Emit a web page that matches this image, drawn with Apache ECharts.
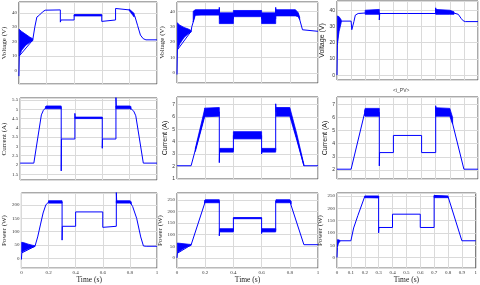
<!DOCTYPE html>
<html><head><meta charset="utf-8">
<script src="https://cdn.jsdelivr.net/npm/echarts@6/dist/echarts.min.js"></script>
<style>html,body{margin:0;padding:0;background:#fff}#c{width:480px;height:285px}</style>
</head><body><div id="c"></div>
<script>
// ---- data (time in s) ----
const xTicks13 = [0, 0.2, 0.4, 0.6, 0.8, 1];
// PV1 voltage
const v1Line = [[0,-4],[0.003,10],[0.1,21],[0.115,30],[0.13,37],[0.15,38.5],[0.17,40.5],[0.19,41.8],[0.2,42],[0.3,42],[0.3,33.5],[0.305,35],[0.4,35],[0.4,38.3],[0.6,38.3],[0.6,34],[0.605,35],[0.7,35],[0.7,43],[0.705,42],[0.8,42],[0.82,40],[0.84,37.5],[0.86,31],[0.88,24.5],[0.9,22],[0.92,21.2],[1,21.2]];
const v1Bands = [[[0.002,10,28.5],[0.02,14,27],[0.05,17.5,25],[0.08,19.5,23],[0.1,20.5,22]],[[0.4,37.8,38.8],[0.6,37.8,38.8]],[[0.8,41.5,42.5],[0.835,37,39.5]]];
// PV1 current
const i1Line = [[0,2.1],[0.1,2.1],[0.155,4.7],[0.17,4.95],[0.19,5.1],[0.3,5.1],[0.3,1.68],[0.302,3.4],[0.4,3.4],[0.4,4.78],[0.402,4.55],[0.6,4.55],[0.6,2.9],[0.602,3.4],[0.7,3.4],[0.7,5.65],[0.703,5.1],[0.8,5.1],[0.83,4.9],[0.845,4.65],[0.9,2.1],[1,2.1]];
const i1Bands = [[[0.185,5.03,5.15],[0.19,5.03,5.18],[0.3,5.03,5.18]],[[0.4,4.5,4.58],[0.6,4.5,4.58]],[[0.7,5.03,5.18],[0.8,5.03,5.18],[0.81,5.0,5.15]]];
// PV1 power
const p1Line = [[0,-5],[0.003,20],[0.1,45],[0.12,80],[0.14,125],[0.16,170],[0.18,200],[0.2,211],[0.3,211],[0.3,68],[0.302,120],[0.4,120],[0.4,174],[0.6,174],[0.6,116],[0.602,120],[0.7,120],[0.7,248],[0.703,211],[0.8,211],[0.82,195],[0.85,150],[0.88,80],[0.9,46],[0.92,45],[1,45]];
const p1Bands = [[[0.002,22,60],[0.02,28,58],[0.05,35,53],[0.08,41,49],[0.1,44,47]],[[0.2,207,216],[0.3,207,216]],[[0.7,207,216],[0.8,207,216],[0.81,204,212]]];
// PV2 voltage
const v2Line = [[0,-1],[0.003,15],[0.1,27],[0.105,30],[0.115,33],[0.125,37.5],[0.3,39],[0.3,42.5],[0.302,35],[0.4,35],[0.4,38],[0.6,38],[0.6,35],[0.7,35],[0.7,42.5],[0.702,39],[0.86,38],[0.875,33],[0.89,28],[0.9,27],[1,27]];
const v2Bands = [[[0.002,15,32.5],[0.02,19,31],[0.05,23,29.5],[0.08,25.5,28.5],[0.1,26.5,27.5]],[[0.115,33,40],[0.13,37.5,41],[0.3,37.5,41]],[[0.3,32,39],[0.4,32,39]],[[0.4,36.5,40.5],[0.6,36.5,40.5]],[[0.6,32,39],[0.7,32,39]],[[0.7,37,41],[0.84,37,41],[0.86,36.5,39],[0.87,34.5,36]]];
// PV2 current
const i2Line = [[0,2.05],[0.1,2.05],[0.2,6.3],[0.3,6.4],[0.3,2.3],[0.302,3.3],[0.4,3.3],[0.4,4.5],[0.6,4.5],[0.6,3.0],[0.602,3.3],[0.7,3.3],[0.7,7.05],[0.703,6.4],[0.8,6.4],[0.9,2.05],[1,2.05]];
const i2Bands = [[[0.13,3.2,3.45],[0.195,5.95,6.55]],[[0.195,6.0,6.7],[0.3,6.05,6.75]],[[0.302,3.15,3.45],[0.4,3.15,3.45]],[[0.4,4.22,4.8],[0.6,4.22,4.8]],[[0.602,3.15,3.45],[0.7,3.15,3.45]],[[0.703,6.05,6.75],[0.8,6.05,6.75],[0.85,4.1,4.6],[0.9,2.05,2.15]]];
// PV2 power
const p2Line = [[0,0],[0.003,20],[0.1,56],[0.2,242],[0.3,244],[0.3,95],[0.302,118],[0.4,118],[0.4,172],[0.6,172],[0.6,105],[0.602,118],[0.7,118],[0.7,246],[0.8,244],[0.9,57],[1,57]];
const p2Bands = [[[0.002,20,64],[0.02,30,63],[0.05,42,61],[0.08,50,59],[0.1,54,58]],[[0.195,236,248],[0.2,238,251],[0.3,238,251]],[[0.302,112,126],[0.4,112,126]],[[0.4,169,174],[0.6,169,174]],[[0.602,112,126],[0.7,112,126]],[[0.702,238,251],[0.8,238,251],[0.81,232,244]]];
// PV3 voltage
const v3Line = [[0,0],[0.003,18],[0.01,30],[0.03,33.3],[0.1,33.3],[0.105,28],[0.11,28.5],[0.12,33],[0.13,37],[0.15,38],[0.2,38.3],[0.3,38.5],[0.3,34],[0.303,38],[0.5,38],[0.5,39],[0.502,38],[0.7,38],[0.7,41.5],[0.703,38.5],[0.82,38.5],[0.86,37.5],[0.88,35],[0.895,33.5],[0.91,33],[1,33]];
const v3Bands = [[[0.003,20,36.5],[0.015,27,36],[0.03,32.5,34]],[[0.2,37.5,40],[0.3,37.5,40.5]],[[0.7,37.5,40.5],[0.8,37.5,40],[0.83,37.5,39]]];
// PV3 current
const i3Line = [[0,2.05],[0.1,2.05],[0.195,6.3],[0.3,6.4],[0.3,2.3],[0.302,3.32],[0.4,3.32],[0.4,4.63],[0.6,4.63],[0.6,3.32],[0.7,3.32],[0.7,6.9],[0.703,6.4],[0.8,6.4],[0.9,2.05],[1,2.05]];
const i3Bands = [[[0.195,6.15,6.5],[0.2,6.1,6.7],[0.3,6.1,6.7]],[[0.7,6.1,6.75],[0.8,6.1,6.7],[0.82,5.5,6.0]]];
// PV3 power
const p3Line = [[0,0],[0.003,40],[0.01,68],[0.1,68],[0.12,120],[0.15,170],[0.2,248],[0.3,248],[0.3,100],[0.302,122],[0.4,122],[0.4,176],[0.6,176],[0.6,122],[0.7,122],[0.7,252],[0.703,248],[0.8,248],[0.9,68],[1,68]];
const p3Bands = [[[0.002,45,72],[0.01,58,72],[0.02,64,70]],[[0.2,243,250],[0.3,242,250]],[[0.7,243,251],[0.8,243,250]]];

const yNames = ['Voltage (V)', 'Current (A)', 'Power (W)'];
const xName = 'Time (s)';
const midLabel = '<i_PV>';

// ---- layout / style ----
const SERIF = '"Liberation Serif", "DejaVu Serif", serif';
const SANS = '"Liberation Sans", Arial, sans-serif';
const BLUE = '#0000ff';
const panels = [
  {box:[16,2,141,82],  line:v1Line, bands:v1Bands, y:[-9.5,47.5,10], name:yNames[0], nf:SERIF, xi:0.2, row:0, tf:SERIF},
  {box:[16,98,141,82], line:i1Line, bands:i1Bands, y:[1.19,5.61,0.5], name:yNames[1], nf:SERIF, xi:0.2, row:1, tf:SERIF},
  {box:[16,193,141,80.5], line:p1Line, bands:p1Bands, y:[-37,245,50], name:yNames[2], nf:SERIF, xi:0.2, row:2, tf:SERIF},
  {box:[177,2,141,81], line:v2Line, bands:v2Bands, y:[-6.5,46,10], name:yNames[0], nf:SERIF, xi:0.2, row:0, tf:SERIF},
  {box:[177,97,141,82], line:i2Line, bands:i2Bands, y:[0.98,7.6,1], name:yNames[1], nf:SANS, xi:0.2, row:1, tf:SANS},
  {box:[177,193,141,81], line:p2Line, bands:p2Bands, y:[-44,280,50], name:yNames[2], nf:SERIF, xi:0.2, row:2, tf:SERIF},
  {box:[337,1,141,79], line:v3Line, bands:v3Bands, y:[-3,45.7,10], name:yNames[0], nf:SANS, xi:0.1, row:0, tf:SANS},
  {box:[337,97,141,82], line:i3Line, bands:i3Bands, y:[1.3,7.57,1], name:yNames[1], nf:SANS, xi:0.1, row:1, tf:SANS},
  {box:[337,193,141,82], line:p3Line, bands:p3Bands, y:[-43,262,50], name:yNames[2], nf:SERIF, xi:0.1, row:2, tf:SERIF}
];

const grid=[], xAxis=[], yAxis=[], series=[];
panels.forEach((p,i)=>{
  grid.push({left:p.box[0], top:p.box[1], width:p.box[2], height:p.box[3], show:true, borderColor:'#555', borderWidth:1, backgroundColor:'#fff'});
  xAxis.push({type:'value', gridIndex:i, min:0, max:1, interval:p.xi,
    axisLine:{show:false}, axisTick:{show:false},
    splitLine:{show:true, lineStyle:{color:'#dadada', width:1}},
    axisLabel:{show:p.row===2, fontSize:5, margin:2, color:'#333', fontFamily:p.tf},
    name:p.row===2?xName:'', nameLocation:'middle', nameGap:6,
    nameTextStyle:{fontSize:7.5, fontFamily:SERIF, color:'#222'}});
  yAxis.push({type:'value', gridIndex:i, min:p.y[0], max:p.y[1], minInterval:p.y[2], maxInterval:p.y[2], splitNumber:8,
    axisLine:{show:false}, axisTick:{show:false},
    splitLine:{show:true, lineStyle:{color:'#dadada', width:1}},
    axisLabel:{fontSize:5, margin:2, color:'#333', fontFamily:p.tf, showMinLabel:false, showMaxLabel:false},
    name:p.name, nameLocation:'middle', nameGap:7,
    nameTextStyle:{fontSize:7, fontFamily:p.nf, color:'#222'}});
  series.push({type:'line', xAxisIndex:i, yAxisIndex:i, data:p.line, symbol:'none', showSymbol:false,
    lineStyle:{color:BLUE, width:1}, silent:true, clip:true, z:4});
  p.bands.forEach(b=>{
    series.push({type:'custom', xAxisIndex:i, yAxisIndex:i, data:b, encode:{x:0, y:[1,2]}, clip:true, silent:true, z:3,
      renderItem:function(params, api){
        if (params.dataIndex!==0) return null;
        const up = b.map(r=>api.coord([r[0], r[2]]));
        const lo = b.slice().reverse().map(r=>api.coord([r[0], r[1]]));
        return {type:'polygon', shape:{points:up.concat(lo)}, style:{fill:BLUE, stroke:BLUE, lineWidth:0.8}};
      }});
  });
});

const chart = echarts.init(document.getElementById('c'), null, {renderer:'canvas'});
chart.setOption({
  animation:false, backgroundColor:'#fff',
  grid, xAxis, yAxis, series,
  graphic:[{type:'text', left:393, top:88, style:{text:midLabel, fontSize:5, fontFamily:SANS, fill:'#444'}}]
});
</script></body></html>
